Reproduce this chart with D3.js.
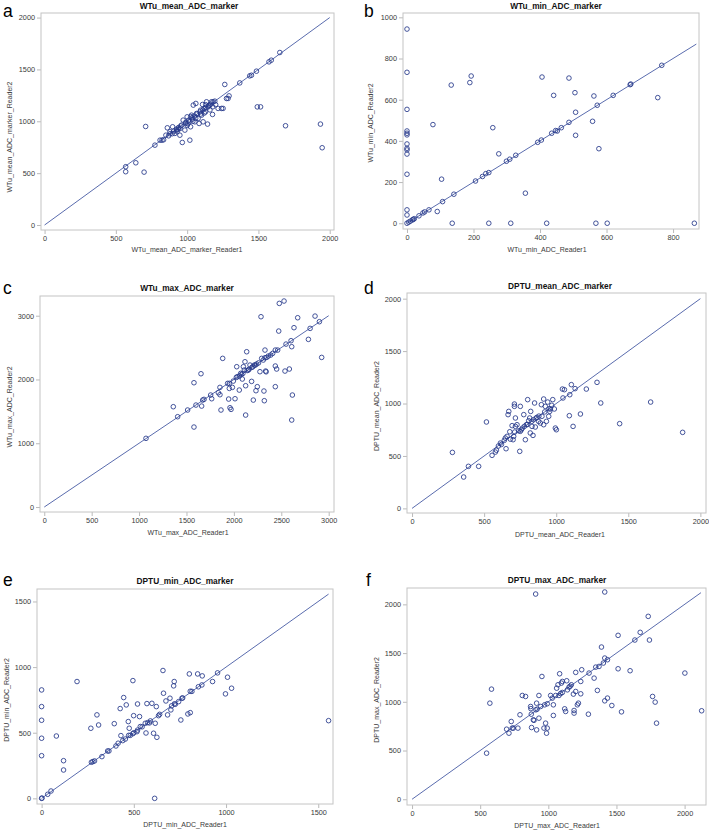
<!DOCTYPE html>
<html>
<head>
<meta charset="utf-8">
<script src="https://cdn.jsdelivr.net/npm/d3@7"></script>
<style>
  html, body { margin: 0; padding: 0; background: #fff; }
  svg { display: block; font-family: Arial, "Liberation Sans", sans-serif; }
</style>
</head>
<body>
<svg id="chart" width="709" height="834"></svg>
<script>
// ---------------- DATA ----------------
const panelLetters = ["a", "b", "c", "d", "e", "f"];
const titles = ["WTu_mean_ADC_marker", "WTu_min_ADC_marker", "WTu_max_ADC_marker",
                "DPTU_mean_ADC_marker", "DPTU_min_ADC_marker", "DPTU_max_ADC_marker"];
const xLabels = ["WTu_mean_ADC_marker_Reader1", "WTu_min_ADC_Reader1", "WTu_max_ADC_Reader1",
                 "DPTU_mean_ADC_Reader1", "DPTU_min_ADC_Reader1", "DPTU_max_ADC_Reader1"];
const yLabels = ["WTu_mean_ADC_marker_Reader2", "WTu_min_ADC_Reader2", "WTu_max_ADC_Reader2",
                 "DPTU_mean_ADC_Reader2", "DPTU_min_ADC_Reader2", "DPTU_max_ADC_Reader2"];
const xTicks = [[0, 500, 1000, 1500, 2000], [0, 200, 400, 600, 800], [0, 500, 1000, 1500, 2000, 2500, 3000],
                [0, 500, 1000, 1500, 2000], [0, 500, 1000, 1500], [0, 500, 1000, 1500, 2000]];
const yTicks = [[0, 500, 1000, 1500, 2000], [0, 200, 400, 600, 800, 1000], [0, 1000, 2000, 3000],
                [0, 500, 1000, 1500, 2000], [0, 500, 1000, 1500], [0, 500, 1000, 1500, 2000]];
const identityEnd = [2000, 870, 3000, 2000, 1556, 2120];

const wtuMean = [[569,562],[569,514],[640,600],[698,510],[709,950],[774,770],[810,818],[824,818],[835,822],
  [851,866],[861,937],[879,899],[898,947],[914,883],[926,915],[937,924],[949,866],[961,963],[966,796],[972,1011],
  [984,915],[991,979],[1000,1043],[1014,995],[1019,818],[1024,947],[1031,1059],[1038,1021],[1043,1156],[1054,995],
  [1061,1172],[1066,1075],[1077,1027],[1084,979],[1094,1107],[1101,1059],[1108,1162],[1112,995],[1119,1124],
  [1129,1091],[1136,1188],[1143,973],[1147,1139],[1159,1156],[1171,1188],[1178,1066],[1182,1188],[1194,1194],
  [1217,1124],[1241,1124],[1252,1124],[1264,1355],[1276,1220],[1287,1220],[1294,1245],[1369,1370],[1439,1438],
  [1451,1444],[1486,1483],[1492,1139],[1515,1139],[1574,1573],[1590,1589],[1650,1663],[1690,957],[1935,973],
  [1947,745],[880,880],[905,905],[925,925],[940,940],[955,955],[990,990],[1010,1010],[1035,1035],[1050,1050],
  [1070,1070],[1090,1090],[1110,1110],[1130,1130],[1150,1150],[1165,1165],[930,900],[950,930],[1005,975],
  [1040,1000],[1060,1030],[1095,1070],[1120,1080],[1000,960],[870,860],[895,880],[1180,1140],[1200,1160],
  [1025,1045],[1130,1160],[1160,1110]];

const wtuMin = [[0,943],[0,733],[0,553],[0,448],[0,437],[0,429],[0,385],[0,364],[0,356],[0,336],[0,238],[0,65],
  [0,40],[0,0],[5,5],[10,10],[16,16],[19,19],[22,22],[36,36],[48,50],[53,55],[66,65],[78,479],[91,57],[104,214],
  [107,105],[133,671],[136,0],[141,141],[189,683],[193,715],[206,205],[227,227],[237,241],[246,246],[246,0],
  [258,464],[276,337],[299,301],[309,311],[327,330],[312,0],[356,146],[393,393],[404,404],[406,710],[420,0],
  [435,437],[447,450],[452,448],[464,464],[441,621],[487,490],[487,705],[507,539],[505,634],[507,427],[558,495],
  [562,618],[568,0],[572,573],[577,362],[602,0],[620,621],[671,673],[673,676],[754,610],[766,767],[864,0]];

const wtuMax = [[1073,1077],[1361,1573],[1407,1416],[1512,1521],[1579,1949],[1579,1254],[1600,1599],[1653,2090],
  [1660,1583],[1671,1677],[1685,1688],[1755,1756],[1766,1698],[1836,1792],[1853,1876],[1853,1761],[1864,1521],
  [1882,2331],[1934,1939],[1952,1939],[1945,1693],[1959,1557],[1970,1531],[1952,1860],[1984,1876],[1994,1975],
  [2012,1698],[2030,2200],[2026,2033],[2036,2043],[2057,2054],[2057,1834],[2072,2096],[2089,2007],[2110,2148],
  [2100,2200],[2117,2278],[2124,1902],[2135,2435],[2124,1442],[2152,2148],[2170,2226],[2187,1970],[2205,1677],
  [2216,2226],[2233,1824],[2240,2242],[2247,1887],[2286,2984],[2275,2122],[2293,2331],[2310,2305],[2317,1819],
  [2335,2132],[2321,1667],[2328,2461],[2328,2341],[2346,2346],[2363,2367],[2388,2383],[2409,2409],[2437,2211],
  [2437,1887],[2451,2164],[2437,2461],[2462,2461],[2479,3193],[2529,3230],[2473,2759],[2539,2132],[2550,2555],
  [2585,2164],[2603,2608],[2610,2514],[2610,1364],[2617,1756],[2634,2812],[2673,2968],[2786,2629],[2804,2801],
  [2856,2994],[2902,2906],[2926,2346],[2080,2080],[2095,2095],[2140,2140],[2160,2160],[2190,2190],[2200,2200],
  [2225,2225],[2260,2260],[2340,2120]];

const dptuMean = [[280,534],[358,299],[391,401],[462,401],[516,824],[555,506],[578,537],[585,555],[599,595],
  [613,623],[620,610],[652,569],[640,649],[647,671],[659,687],[666,894],[671,925],[678,731],[682,660],[701,655],
  [705,687],[694,789],[712,728],[717,782],[710,995],[710,973],[717,862],[728,798],[747,544],[751,973],[751,735],
  [758,750],[775,894],[779,782],[786,655],[793,798],[802,1037],[809,836],[816,862],[820,719],[823,925],[832,782],
  [839,696],[843,846],[850,1005],[855,776],[866,868],[878,830],[890,814],[897,989],[901,878],[913,1043],[913,798],
  [924,973],[932,830],[941,1014],[948,878],[955,925],[960,948],[969,983],[976,1037],[987,948],[994,766],[1001,750],
  [1043,1138],[1047,1053],[1057,1132],[1091,884],[1094,1084],[1105,1180],[1117,782],[1131,1142],[1168,900],
  [1209,1138],[1283,1202],[1309,1005],[1440,808],[1655,1014],[1877,725],[740,740],[765,765],[800,800],[830,830],
  [860,860],[880,880],[920,920],[950,950]];

const dptuMin = [[0,826],[0,699],[0,595],[0,458],[0,325],[0,0],[2,2],[33,31],[51,56],[80,475],[119,287],[119,216],
  [192,890],[267,534],[270,275],[278,280],[287,285],[300,636],[309,559],[327,318],[358,361],[365,361],[394,569],
  [403,399],[415,420],[426,684],[430,478],[440,440],[445,768],[459,712],[454,452],[470,585],[475,534],[472,480],
  [481,480],[495,493],[495,897],[499,630],[500,500],[517,508],[520,719],[520,520],[531,623],[535,547],[545,545],
  [562,572],[566,498],[571,722],[575,577],[585,575],[590,590],[598,724],[607,496],[616,572],[622,699],[625,465],
  [613,0],[634,630],[640,640],[658,974],[661,801],[674,742],[683,636],[696,763],[701,674],[705,705],[719,890],
  [716,857],[720,720],[725,717],[743,737],[761,763],[765,765],[755,597],[793,643],[806,653],[806,816],[815,815],
  [801,948],[846,948],[850,850],[869,864],[871,933],[927,890],[954,956],[997,796],[1008,923],[1030,839],[1556,592]];

const dptuMax = [[547,473],[571,986],[583,1130],[694,719],[711,678],[728,798],[735,730],[743,730],[777,730],
  [792,867],[809,1065],[833,1055],[870,952],[872,930],[875,873],[877,736],[890,815],[895,810],[907,2106],[909,918],
  [914,986],[918,925],[914,712],[931,1065],[931,832],[944,952],[953,1260],[968,730],[973,969],[980,781],[987,678],
  [992,730],[992,980],[1017,1065],[1029,1038],[1037,860],[1037,969],[1054,1065],[1061,1140],[1071,1175],
  [1078,1065],[1090,1085],[1083,1288],[1096,1192],[1103,1209],[1103,1096],[1120,928],[1127,901],[1135,1216],
  [1140,1123],[1152,1151],[1160,1160],[1169,1175],[1184,1079],[1189,884],[1189,911],[1201,1106],[1201,1302],
  [1213,969],[1221,986],[1238,1209],[1238,1082],[1245,1329],[1294,873],[1299,1295],[1336,1243],[1348,1356],
  [1360,1117],[1372,1363],[1390,1562],[1404,1398],[1414,1449],[1414,2127],[1414,1010],[1434,1038],[1434,1432],
  [1466,962],[1512,1682],[1512,1339],[1537,897],[1600,1319],[1635,1634],[1674,1713],[1733,1877],[1742,1634],
  [1765,1055],[1784,997],[1794,781],[2002,1295],[2125,908]];

const series = [wtuMean, wtuMin, wtuMax, dptuMean, dptuMin, dptuMax];

// ---------------- LAYOUT ----------------
const layout = [
  { frame: [41, 334, 13, 230],   xDom: [-25, 2030], yDom: [-48, 2044],
    letter: [3, 16.5],   title: [189, 8.5],   xLab: [187, 252], yLab: [11.5, 137] },
  { frame: [403, 699, 13, 229],  xDom: [-12, 878],  yDom: [-28, 1021],
    letter: [364, 16.5], title: [556, 8.5],   xLab: [547, 252], yLab: [372.5, 123] },
  { frame: [40, 334, 296, 512],  xDom: [-45, 3056], yDom: [-78, 3309],
    letter: [3, 294],  title: [187, 290.5], xLab: [188, 535], yLab: [11.7, 407] },
  { frame: [407, 706, 293, 513], xDom: [-35, 2039], yDom: [-44, 2054],
    letter: [364, 294],title: [560, 289],   xLab: [560, 537], yLab: [379, 406] },
  { frame: [37, 333, 589, 804],  xDom: [-25, 1580], yDom: [-43, 1595],
    letter: [3, 586],  title: [185, 584],   xLab: [185, 827], yLab: [8.5, 700] },
  { frame: [407, 706, 588, 805], xDom: [-37, 2157], yDom: [-59, 2168],
    letter: [366, 586],title: [557, 582.7], xLab: [557, 828], yLab: [379, 700] }
];

const markerColor = "#26388a";
const lineColor = "#5a6cae";
const frameColor = "#c4c4c4";
const textColor = "#3a3a3a";

const svg = d3.select("#chart");

series.forEach((data, i) => {
  const L = layout[i];
  const [fx0, fx1, fy0, fy1] = L.frame;
  const x = d3.scaleLinear().domain(L.xDom).range([fx0, fx1]);
  const y = d3.scaleLinear().domain(L.yDom).range([fy1, fy0]);
  const g = svg.append("g");

  const clipId = "clip" + i;
  svg.append("clipPath").attr("id", clipId)
    .append("rect").attr("x", fx0).attr("y", fy0).attr("width", fx1 - fx0).attr("height", fy1 - fy0);

  // axes
  const xa = g.append("g").attr("transform", `translate(0,${fy1})`)
    .call(d3.axisBottom(x).tickValues(xTicks[i]).tickSize(4).tickPadding(1.5).tickFormat(d3.format("d")));
  const ya = g.append("g").attr("transform", `translate(${fx0},0)`)
    .call(d3.axisLeft(y).tickValues(yTicks[i]).tickSize(4).tickPadding(2).tickFormat(d3.format("d")));
  [xa, ya].forEach(a => {
    a.select(".domain").remove();
    a.selectAll(".tick line").attr("stroke", "#a8a8a8").attr("stroke-width", 0.8);
    a.selectAll(".tick text").attr("fill", textColor).style("font-size", "7.3px")
      .style("font-family", "Arial, 'Liberation Sans', sans-serif");
  });

  // frame
  g.append("rect").attr("x", fx0).attr("y", fy0).attr("width", fx1 - fx0).attr("height", fy1 - fy0)
    .attr("fill", "none").attr("stroke", frameColor).attr("stroke-width", 1);

  // identity line
  g.append("line").attr("clip-path", `url(#${clipId})`)
    .attr("x1", x(0)).attr("y1", y(0)).attr("x2", x(identityEnd[i])).attr("y2", y(identityEnd[i]))
    .attr("stroke", lineColor).attr("stroke-width", 1);

  // markers
  g.append("g").selectAll("circle").data(data).join("circle")
    .attr("cx", d => x(d[0])).attr("cy", d => y(d[1])).attr("r", 2.3)
    .attr("fill", "none").attr("stroke", markerColor).attr("stroke-width", 0.95).attr("stroke-opacity", 0.9);

  // title
  g.append("text").attr("x", L.title[0]).attr("y", L.title[1]).attr("text-anchor", "middle")
    .style("font-size", "8.3px").style("font-weight", "bold").attr("fill", "#111").text(titles[i]);

  // axis labels
  g.append("text").attr("x", L.xLab[0]).attr("y", L.xLab[1]).attr("text-anchor", "middle")
    .style("font-size", "7px").attr("fill", textColor).text(xLabels[i]);
  g.append("text").attr("transform", `translate(${L.yLab[0]},${L.yLab[1]}) rotate(-90)`)
    .attr("text-anchor", "middle").style("font-size", "7px").attr("fill", textColor).text(yLabels[i]);

  // panel letter
  g.append("text").attr("x", L.letter[0]).attr("y", L.letter[1])
    .style("font-size", "17.5px").attr("fill", "#000").text(panelLetters[i]);
});
</script>
</body>
</html>
